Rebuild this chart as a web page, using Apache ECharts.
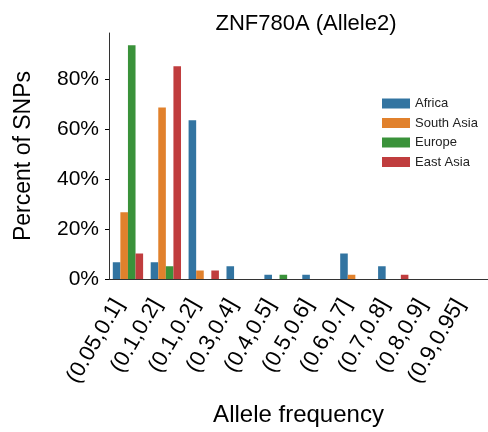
<!DOCTYPE html>
<html>
<head>
<meta charset="utf-8">
<script src="https://cdn.jsdelivr.net/npm/echarts@6/dist/echarts.min.js"></script>
<style>
  html, body { margin: 0; padding: 0; background: #fff; }
  #chart { width: 488px; height: 432px; }
</style>
</head>
<body>
<div id="chart"></div>
<script>
// allele frequency bins
const bins = ["(0.05,0.1]", "(0.1,0.2]", "(0.1,0.2]", "(0.3,0.4]", "(0.4,0.5]",
  "(0.5,0.6]", "(0.6,0.7]", "(0.7,0.8]", "(0.8,0.9]", "(0.9,0.95]"];

// percent of SNPs per population
const africa    = [6.7, 6.7, 63.5, 5.1, 1.7, 1.7, 10.2, 5.1, 0, 0];
const southAsia = [26.7, 68.6, 3.4, 0, 0, 0, 1.7, 0, 0, 0];
const europe    = [93.5, 5.1, 0, 0, 1.7, 0, 0, 0, 0, 0];
const eastAsia  = [10.2, 85.1, 3.4, 0, 0, 0, 0, 1.7, 0, 0];

const yTicks = [0, 20, 40, 60, 80];

const font = "Liberation Sans";
const chart = echarts.init(document.getElementById("chart"));

function barSeries(name, values, color) {
  return {
    name: name,
    type: "bar",
    data: values,
    itemStyle: { color: color },
    barGap: "0%",
    barCategoryGap: "20%",
    animation: false
  };
}

chart.setOption({
  textStyle: { fontFamily: font },
  title: {
    text: "ZNF780A (Allele2)",
    left: 301,
    textAlign: "center",
    top: 8,
    textStyle: { fontFamily: font, fontSize: 22, fontWeight: "normal", color: "#000" }
  },
  legend: {
    orient: "vertical",
    left: 377,
    top: 92,
    itemWidth: 28,
    itemHeight: 10,
    itemGap: 6.5,
    icon: "rect",
    textStyle: { fontFamily: font, fontSize: 13, color: "#222" },
    data: ["Africa", "South Asia", "Europe", "East Asia"]
  },
  grid: { left: 109, right: -6, top: 33, bottom: 148, containLabel: false },
  xAxis: {
    type: "category",
    data: bins,
    name: "Allele frequency",
    nameLocation: "middle",
    nameGap: 124,
    nameTextStyle: { fontFamily: font, fontSize: 24, color: "#000" },
    axisLine: { lineStyle: { color: "#333", width: 1 } },
    axisTick: { alignWithLabel: true, length: 4, lineStyle: { color: "#000" } },
    axisLabel: {
      rotate: 60,
      fontSize: 22,
      color: "#000",
      margin: 6,
      interval: 0,
      // trailing gap so the rotated text ends left of its tick, like matplotlib
      formatter: function (v) {
        return v + "\u00a0\u00a0\u00a0";
      }
    }
  },
  yAxis: {
    type: "value",
    min: 0,
    max: 98.4,
    interval: 20,
    name: "Percent of SNPs",
    nameLocation: "middle",
    nameGap: 74,
    nameTextStyle: { fontFamily: font, fontSize: 23, color: "#000" },
    axisLine: { show: true, lineStyle: { color: "#333", width: 1 } },
    axisTick: { show: true, length: 4, lineStyle: { color: "#000" } },
    splitLine: { show: false },
    axisLabel: {
      fontSize: 21,
      color: "#000",
      margin: 10,
      showMaxLabel: false,
      formatter: function (v) {
        return yTicks.indexOf(v) >= 0 ? v + "%" : "";
      }
    }
  },
  series: [
    barSeries("Africa", africa, "#3274a1"),
    barSeries("South Asia", southAsia, "#e1812c"),
    barSeries("Europe", europe, "#3a923a"),
    barSeries("East Asia", eastAsia, "#c03d3e")
  ]
});
</script>
</body>
</html>
